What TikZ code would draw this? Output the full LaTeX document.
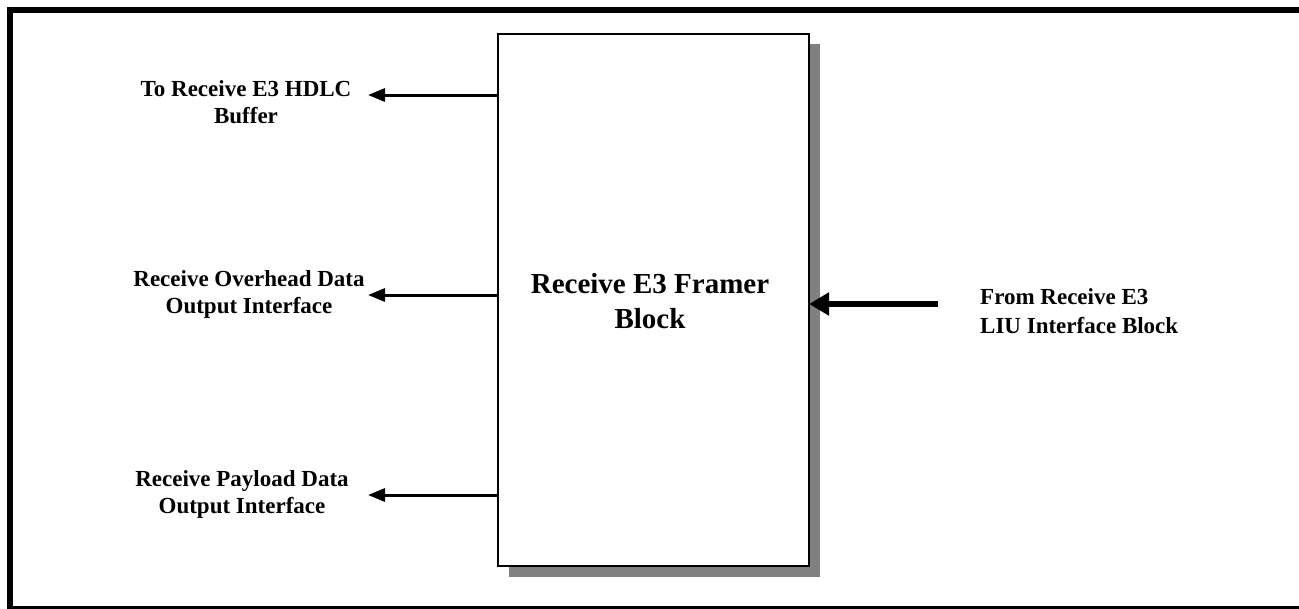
\documentclass[tikz,border=0pt]{standalone}
\usepackage{fontspec}
\setmainfont{Liberation Serif}
\usetikzlibrary{arrows.meta}
\begin{document}
\begin{tikzpicture}[x=1pt,y=-1pt,
  lbl/.style={inner sep=0pt, align=center, font=\bfseries\fontsize{23}{27}\selectfont},
  rlbl/.style={inner sep=0pt, align=left, font=\bfseries\fontsize{23}{29}\selectfont},
  outarrow/.style={line width=3pt, -{Triangle[length=17pt,width=13pt]}},
  inarrow/.style={line width=6pt, -{Triangle[length=20pt,width=22pt]}},
  blockbox/.style={draw=black, line width=2pt, fill=white, inner sep=0pt, outer sep=0pt, minimum width=311pt, minimum height=532pt},
  shadowbox/.style={fill=gray, draw=none, inner sep=0pt, outer sep=0pt, minimum width=311pt, minimum height=533pt}]
\useasboundingbox (0,0) rectangle (1299,608);
\clip (0,0) rectangle (1299,608);
% outer frame
\draw[line width=6pt] (10,10) rectangle (1302,609);
% block with shadow
\node[shadowbox] (shadow) at (664.5,310.5) {};
\node[blockbox] (framer) at (653.5,300) {};
\node[inner sep=0pt, align=center, font=\bfseries\fontsize{29}{35}\selectfont, anchor=north] (ftext) at (650,273.5) {Receive E3 Framer\\Block};
% left labels
\node[lbl, anchor=north] (hdlc) at (246,80.5) {To Receive E3 HDLC\\Buffer};
\node[lbl, anchor=north] (ovh) at (249,270.5) {Receive Overhead Data\\Output Interface};
\node[lbl, anchor=north] (pay) at (242,470.5) {Receive Payload Data\\Output Interface};
% right label
\node[rlbl, anchor=north west] (liu) at (980,288) {From Receive E3\\LIU Interface Block};
% arrow end points
\coordinate (t1) at (368,95);
\coordinate (t2) at (368,295);
\coordinate (t3) at (368,495);
\coordinate (s1) at (938,304);
\draw[outarrow] (framer.west |- t1) -- (t1);
\draw[outarrow] (framer.west |- t2) -- (t2);
\draw[outarrow] (framer.west |- t3) -- (t3);
\draw[inarrow] (s1) -- (framer.east |- s1);
\end{tikzpicture}
\end{document}
